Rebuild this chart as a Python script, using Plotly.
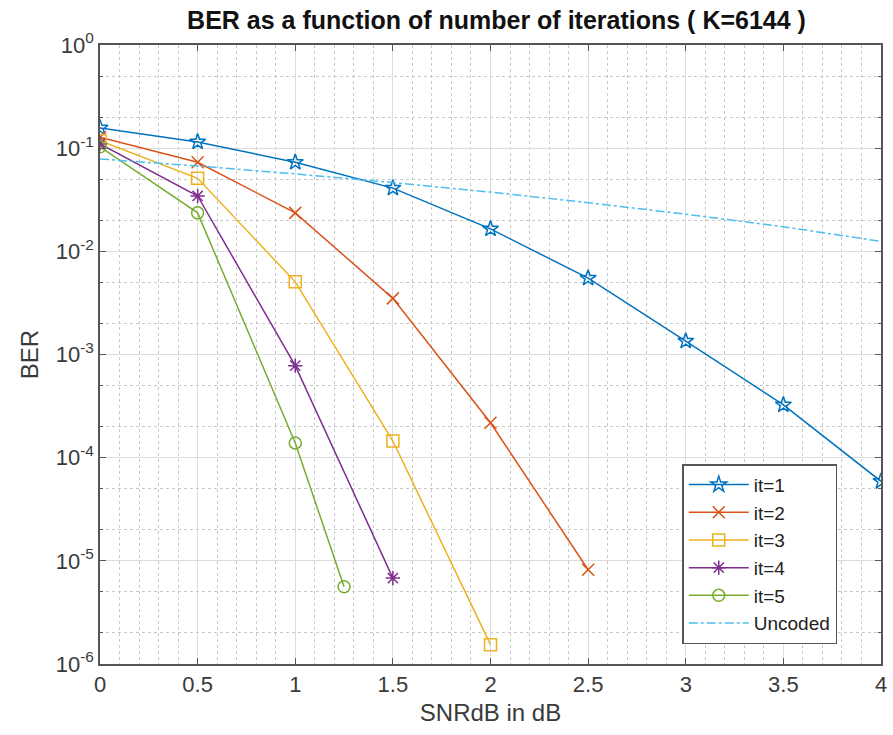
import plotly.graph_objects as go

snr = [0, 0.5, 1, 1.5, 2, 2.5, 3, 3.5, 4]
ber_it1 = [0.157, 0.115, 0.073, 0.041, 0.0165, 0.0055, 0.00135, 0.000325, 5.9e-5]
snr_it2 = [0, 0.5, 1, 1.5, 2, 2.5]
ber_it2 = [0.128, 0.073, 0.0236, 0.0035, 2.18e-4, 8.2e-6]
snr_it3 = [0, 0.5, 1, 1.5, 2]
ber_it3 = [0.118, 0.051, 0.00506, 1.45e-4, 1.54e-6]
snr_it4 = [0, 0.5, 1, 1.5]
ber_it4 = [0.11, 0.0344, 7.8e-4, 6.8e-6]
snr_it5 = [0, 0.5, 1, 1.25]
ber_it5 = [0.103, 0.0236, 1.39e-4, 5.6e-6]
ber_uncoded = [0.0786, 0.0671, 0.0563, 0.0464, 0.0375, 0.0296, 0.0229, 0.0173, 0.0125]

ytick_vals = [1e-6, 1e-5, 1e-4, 1e-3, 1e-2, 1e-1, 1]
ytick_text = ["10<sup>-6</sup>", "10<sup>-5</sup>", "10<sup>-4</sup>", "10<sup>-3</sup>",
              "10<sup>-2</sup>", "10<sup>-1</sup>", "10<sup>0</sup>"]
xtick_vals = [0, 0.5, 1, 1.5, 2, 2.5, 3, 3.5, 4]
xtick_text = ["0", "0.5", "1", "1.5", "2", "2.5", "3", "3.5", "4"]

series = [
    ("it=1", snr, ber_it1, "#0072BD", "star-open"),
    ("it=2", snr_it2, ber_it2, "#D95319", "x-thin-open"),
    ("it=3", snr_it3, ber_it3, "#EDB120", "square-open"),
    ("it=4", snr_it4, ber_it4, "#7E2F8E", "asterisk-open"),
    ("it=5", snr_it5, ber_it5, "#77AC30", "circle-open"),
]

FONT = "Liberation Sans, Arial, sans-serif"

fig = go.Figure()
for name, x, y, c, sym in series:
    fig.add_trace(go.Scatter(
        x=x, y=y, name=name, mode="lines+markers",
        line=dict(color=c, width=1.5),
        marker=dict(symbol=sym, size=12, color=c, line=dict(color=c, width=1.5)),
    ))
fig.add_trace(go.Scatter(
    x=snr, y=ber_uncoded, name="Uncoded", mode="lines",
    line=dict(color="#4DBEEE", width=1.5, dash="dashdot"),
))

axis_common = dict(
    showline=True, linecolor="#555555", linewidth=1.5, mirror="ticks",
    ticks="inside", tickcolor="#555555", ticklen=6,
    showgrid=True, gridcolor="#dcdcdc", gridwidth=1,
    zeroline=False,
    tickfont=dict(family=FONT, size=22, color="#3a3a3a"),
)

fig.update_layout(
    width=893, height=735,
    paper_bgcolor="white", plot_bgcolor="white",
    margin=dict(l=100, r=6, t=45, b=71),
    title=dict(text="<b>BER as a function of number of iterations ( K=6144 )</b>",
               x=0.556, xanchor="center", y=0.973, yanchor="middle",
               font=dict(family=FONT, size=25, color="#111111")),
    xaxis=dict(
        range=[0, 4], tickvals=xtick_vals, ticktext=xtick_text,
        title=dict(text="SNRdB in dB", font=dict(family=FONT, size=24, color="#3a3a3a"),
                   standoff=8),
        minor=dict(dtick=0.1, showgrid=True, griddash="dot", gridcolor="#c8c8c8", gridwidth=1, ticks=""),
        **axis_common,
    ),
    yaxis=dict(
        type="log", range=[-6, 0], tickvals=ytick_vals, ticktext=ytick_text,
        title=dict(text="BER", font=dict(family=FONT, size=24, color="#3a3a3a"),
                   standoff=10),
        minor=dict(showgrid=True, griddash="dot", gridcolor="#c8c8c8", gridwidth=1,
                   ticks="inside", ticklen=3, tickcolor="#555555"),
        **axis_common,
    ),
    legend=dict(
        x=0.944, xanchor="right", y=0.032, yanchor="bottom",
        bgcolor="white", bordercolor="#555555", borderwidth=1.5,
        font=dict(family=FONT, size=19, color="#222222"),
        tracegroupgap=0, itemwidth=60,
        entrywidth=140, entrywidthmode="pixels",
    ),
    showlegend=True,
)

fig.write_html("out.html")
